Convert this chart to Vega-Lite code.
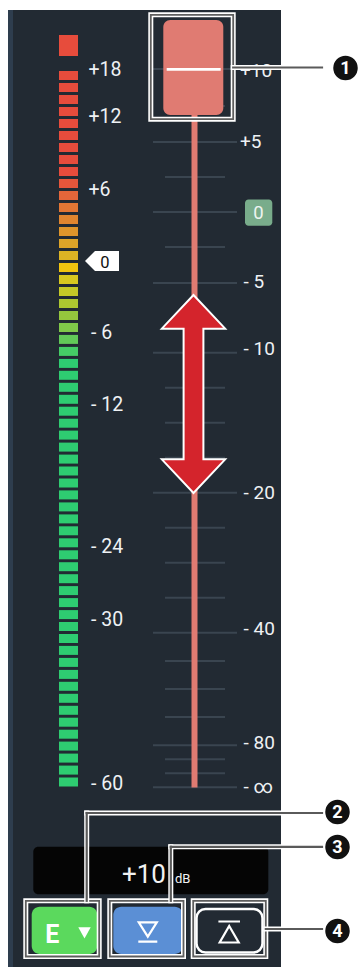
{
  "$schema": "https://vega.github.io/schema/vega-lite/v6.json",
  "width": 359,
  "height": 967,
  "padding": 0,
  "autosize": {"type": "fit", "contains": "padding"},
  "background": "#ffffff",
  "config": {"view": {"stroke": null}},
  "datasets": {
    "panel": [{"x": 8, "x2": 281, "y": 10, "y2": 967}],
    "strip": [{"x": 8, "x2": 13, "y": 10, "y2": 967}],
    "peak": [{"x": 59, "x2": 78, "y": 35, "y2": 56}],
    "meter": [
      {"i": 0, "x": 59, "x2": 78, "y": 71, "y2": 80},
      {"i": 1, "x": 59, "x2": 78, "y": 83, "y2": 92},
      {"i": 2, "x": 59, "x2": 78, "y": 95, "y2": 104},
      {"i": 3, "x": 59, "x2": 78, "y": 107, "y2": 116},
      {"i": 4, "x": 59, "x2": 78, "y": 119, "y2": 128},
      {"i": 5, "x": 59, "x2": 78, "y": 131, "y2": 140},
      {"i": 6, "x": 59, "x2": 78, "y": 143, "y2": 152},
      {"i": 7, "x": 59, "x2": 78, "y": 155, "y2": 164},
      {"i": 8, "x": 59, "x2": 78, "y": 167, "y2": 176},
      {"i": 9, "x": 59, "x2": 78, "y": 179, "y2": 188},
      {"i": 10, "x": 59, "x2": 78, "y": 191, "y2": 200},
      {"i": 11, "x": 59, "x2": 78, "y": 203, "y2": 212},
      {"i": 12, "x": 59, "x2": 78, "y": 215, "y2": 224},
      {"i": 13, "x": 59, "x2": 78, "y": 227, "y2": 236},
      {"i": 14, "x": 59, "x2": 78, "y": 239, "y2": 248},
      {"i": 15, "x": 59, "x2": 78, "y": 251, "y2": 260},
      {"i": 16, "x": 59, "x2": 78, "y": 263, "y2": 272},
      {"i": 17, "x": 59, "x2": 78, "y": 275, "y2": 284},
      {"i": 18, "x": 59, "x2": 78, "y": 287, "y2": 296},
      {"i": 19, "x": 59, "x2": 78, "y": 299, "y2": 308},
      {"i": 20, "x": 59, "x2": 78, "y": 311, "y2": 320},
      {"i": 21, "x": 59, "x2": 78, "y": 323, "y2": 332},
      {"i": 22, "x": 59, "x2": 78, "y": 334.9, "y2": 343.9},
      {"i": 23, "x": 59, "x2": 78, "y": 346.9, "y2": 355.9},
      {"i": 24, "x": 59, "x2": 78, "y": 358.9, "y2": 367.9},
      {"i": 25, "x": 59, "x2": 78, "y": 370.8, "y2": 379.8},
      {"i": 26, "x": 59, "x2": 78, "y": 382.8, "y2": 391.8},
      {"i": 27, "x": 59, "x2": 78, "y": 394.8, "y2": 403.8},
      {"i": 28, "x": 59, "x2": 78, "y": 406.7, "y2": 415.7},
      {"i": 29, "x": 59, "x2": 78, "y": 418.7, "y2": 427.7},
      {"i": 30, "x": 59, "x2": 78, "y": 430.6, "y2": 439.6},
      {"i": 31, "x": 59, "x2": 78, "y": 442.6, "y2": 451.6},
      {"i": 32, "x": 59, "x2": 78, "y": 454.6, "y2": 463.6},
      {"i": 33, "x": 59, "x2": 78, "y": 466.5, "y2": 475.5},
      {"i": 34, "x": 59, "x2": 78, "y": 478.5, "y2": 487.5},
      {"i": 35, "x": 59, "x2": 78, "y": 490.4, "y2": 499.4},
      {"i": 36, "x": 59, "x2": 78, "y": 502.4, "y2": 511.4},
      {"i": 37, "x": 59, "x2": 78, "y": 514.4, "y2": 523.4},
      {"i": 38, "x": 59, "x2": 78, "y": 526.3, "y2": 535.3},
      {"i": 39, "x": 59, "x2": 78, "y": 538.3, "y2": 547.3},
      {"i": 40, "x": 59, "x2": 78, "y": 550.3, "y2": 559.3},
      {"i": 41, "x": 59, "x2": 78, "y": 562.2, "y2": 571.2},
      {"i": 42, "x": 59, "x2": 78, "y": 574.2, "y2": 583.2},
      {"i": 43, "x": 59, "x2": 78, "y": 586.1, "y2": 595.1},
      {"i": 44, "x": 59, "x2": 78, "y": 598.1, "y2": 607.1},
      {"i": 45, "x": 59, "x2": 78, "y": 610.1, "y2": 619.1},
      {"i": 46, "x": 59, "x2": 78, "y": 622, "y2": 631},
      {"i": 47, "x": 59, "x2": 78, "y": 634, "y2": 643},
      {"i": 48, "x": 59, "x2": 78, "y": 645.9, "y2": 654.9},
      {"i": 49, "x": 59, "x2": 78, "y": 657.9, "y2": 666.9},
      {"i": 50, "x": 59, "x2": 78, "y": 669.9, "y2": 678.9},
      {"i": 51, "x": 59, "x2": 78, "y": 681.8, "y2": 690.8},
      {"i": 52, "x": 59, "x2": 78, "y": 693.8, "y2": 702.8},
      {"i": 53, "x": 59, "x2": 78, "y": 705.8, "y2": 714.8},
      {"i": 54, "x": 59, "x2": 78, "y": 717.7, "y2": 726.7},
      {"i": 55, "x": 59, "x2": 78, "y": 729.7, "y2": 738.7},
      {"i": 56, "x": 59, "x2": 78, "y": 741.6, "y2": 750.6},
      {"i": 57, "x": 59, "x2": 78, "y": 753.6, "y2": 762.6},
      {"i": 58, "x": 59, "x2": 78, "y": 765.6, "y2": 774.6},
      {"i": 59, "x": 59, "x2": 78, "y": 777.5, "y2": 786.5}
    ],
    "meterLabels": [
      {"t": "+18", "x": 88.5, "y": 75.7},
      {"t": "+12", "x": 88.5, "y": 123},
      {"t": "+6", "x": 88.5, "y": 195.7},
      {"t": "- 6", "x": 91, "y": 339.3},
      {"t": "- 12", "x": 91, "y": 410.7},
      {"t": "- 24", "x": 91, "y": 553.3},
      {"t": "- 30", "x": 91, "y": 625.7},
      {"t": "- 60", "x": 91, "y": 790}
    ],
    "zeroTag": [{"x": 102, "y": 261}],
    "zeroTagText": [{"t": "0", "x": 105, "y": 268.3}],
    "ticks": [
      {"x": 153, "x2": 237, "y": 69},
      {"x": 165, "x2": 225, "y": 106},
      {"x": 153, "x2": 237, "y": 142},
      {"x": 165, "x2": 225, "y": 177},
      {"x": 153, "x2": 237, "y": 212},
      {"x": 165, "x2": 225, "y": 247},
      {"x": 153, "x2": 237, "y": 283},
      {"x": 153, "x2": 237, "y": 352.7},
      {"x": 165, "x2": 225, "y": 387.7},
      {"x": 165, "x2": 225, "y": 422.7},
      {"x": 165, "x2": 225, "y": 457.7},
      {"x": 153, "x2": 237, "y": 492.7},
      {"x": 165, "x2": 225, "y": 527.7},
      {"x": 165, "x2": 225, "y": 562.7},
      {"x": 165, "x2": 225, "y": 597.7},
      {"x": 153, "x2": 237, "y": 632.7},
      {"x": 165, "x2": 225, "y": 661},
      {"x": 165, "x2": 225, "y": 689},
      {"x": 165, "x2": 225, "y": 717},
      {"x": 153, "x2": 237, "y": 745.3},
      {"x": 165, "x2": 225, "y": 759.3},
      {"x": 165, "x2": 225, "y": 773.3},
      {"x": 153, "x2": 237, "y": 787.3}
    ],
    "track": [{"x": 194.5, "y": 115, "y2": 787.5}],
    "faderLabels": [
      {"t": "+10", "x": 240, "y": 76.7},
      {"t": "+5", "x": 240, "y": 148.3},
      {"t": "- 5", "x": 243.5, "y": 287.5},
      {"t": "- 10", "x": 243.5, "y": 355},
      {"t": "- 20", "x": 243.5, "y": 499.3},
      {"t": "- 40", "x": 243.5, "y": 635},
      {"t": "- 80", "x": 243.5, "y": 749.3},
      {"t": "- ∞", "x": 243.5, "y": 793}
    ],
    "badge": [{"x": 245, "x2": 272.3, "y": 199.5, "y2": 225.7}],
    "badgeText": [{"t": "0", "x": 258.5, "y": 218.5}],
    "knob": [{"x": 163.3, "x2": 223.3, "y": 20, "y2": 115}],
    "knobLine": [{"x": 166.7, "x2": 220.7, "y": 69.3}],
    "arrow": [{"x": 193.5, "y": 394}],
    "display": [{"x": 33.3, "x2": 268.3, "y": 846.7, "y2": 894.3}],
    "displayValue": [{"t": "+10", "x": 122, "y": 882.7}],
    "displayUnit": [{"t": "dB", "x": 175, "y": 882.7}],
    "greenButton": [{"x": 31.7, "x2": 97.3, "y": 906.7, "y2": 954}],
    "blueButton": [{"x": 113.3, "x2": 182.7, "y": 906.7, "y2": 954}],
    "darkButton": [{"x": 196.5, "x2": 262.5, "y": 909, "y2": 952.5}],
    "eText": [{"t": "E", "x": 52.2, "y": 942.7}],
    "eArrow": [{"x": 84.5, "y": 932.5}],
    "downSym": [{"x": 147.8, "y": 932.5}],
    "upSym": [{"x": 229.2, "y": 932}],
    "frames": [
      {"x": 150.8, "x2": 233.2, "y": 14.8, "y2": 119.2},
      {"x": 25.8, "x2": 99.2, "y": 900.8, "y2": 956.5},
      {"x": 109.8, "x2": 183.5, "y": 900.8, "y2": 956.5},
      {"x": 193.2, "x2": 265.8, "y": 900.8, "y2": 956.5}
    ],
    "leaders": [
      {"x": 233.2, "x2": 322, "y": 67.5, "y2": 67.5},
      {"x": 86.7, "x2": 86.7, "y": 900.8, "y2": 813},
      {"x": 86.7, "x2": 322, "y": 813, "y2": 813},
      {"x": 170.8, "x2": 170.8, "y": 900.8, "y2": 846.8},
      {"x": 170.8, "x2": 322, "y": 846.8, "y2": 846.8},
      {"x": 265.8, "x2": 322, "y": 929, "y2": 929}
    ],
    "callouts": [
      {"t": "1", "x": 345.5, "y": 68},
      {"t": "2", "x": 337.5, "y": 812},
      {"t": "3", "x": 337.5, "y": 847},
      {"t": "4", "x": 337.5, "y": 931}
    ]
  },
  "encoding": {
    "x": {"field": "x", "type": "quantitative", "scale": {"domain": [0, 359], "nice": false, "zero": false}, "axis": null},
    "y": {"field": "y", "type": "quantitative", "scale": {"domain": [0, 967], "reverse": true, "nice": false, "zero": false}, "axis": null}
  },
  "layer": [
    {"data": {"name": "panel"}, "mark": {"type": "rect", "fill": "#222a33"}, "encoding": {"x2": {"field": "x2"}, "y2": {"field": "y2"}}},
    {"data": {"name": "strip"}, "mark": {"type": "rect", "fill": "#2e3d4e"}, "encoding": {"x2": {"field": "x2"}, "y2": {"field": "y2"}}},
    {"data": {"name": "peak"}, "mark": {"type": "rect", "fill": "#e74c3c"}, "encoding": {"x2": {"field": "x2"}, "y2": {"field": "y2"}}},
    {"data": {"name": "meter"}, "mark": {"type": "rect"}, "encoding": {
      "x2": {"field": "x2"}, "y2": {"field": "y2"},
      "color": {"field": "i", "type": "quantitative", "legend": null, "scale": {
        "domain": [0, 8, 9, 10, 11, 12, 13, 14, 15, 16, 17, 18, 19, 20, 21, 22, 23, 24, 59],
        "range": ["#e74c3c", "#e74c3c", "#e5563b", "#e4663a", "#e27634", "#e0852f", "#de952b", "#dda428", "#dcb324", "#f1c40f", "#d8c81f", "#c5c927", "#adc630", "#95c63d", "#80c849", "#62c958", "#45cc66", "#2ecc71", "#2ecc71"],
        "interpolate": "rgb"}}}},
    {"data": {"name": "meterLabels"}, "mark": {"type": "text", "font": "Roboto", "fontSize": 19.5, "align": "left", "baseline": "alphabetic", "fill": "#eef1f4"}, "encoding": {"text": {"field": "t"}}},
    {"data": {"name": "zeroTag"}, "mark": {"type": "point", "shape": "M-1,0 L-0.41,-0.588 L1,-0.588 L1,0.588 L-0.41,0.588 Z", "size": 1156, "filled": true, "fill": "#ffffff", "opacity": 1}},
    {"data": {"name": "zeroTagText"}, "mark": {"type": "text", "font": "Roboto", "fontSize": 16.5, "align": "center", "baseline": "alphabetic", "fill": "#111111"}, "encoding": {"text": {"field": "t"}}},
    {"data": {"name": "ticks"}, "mark": {"type": "rule", "stroke": "#3a4550", "strokeWidth": 2}, "encoding": {"x2": {"field": "x2"}}},
    {"data": {"name": "track"}, "mark": {"type": "rule", "stroke": "#e07b72", "strokeWidth": 6}, "encoding": {"y2": {"field": "y2"}}},
    {"data": {"name": "faderLabels"}, "mark": {"type": "text", "font": "Roboto", "fontSize": 19, "align": "left", "baseline": "alphabetic", "fill": "#eef1f4"}, "encoding": {"text": {"field": "t"}}},
    {"data": {"name": "badge"}, "mark": {"type": "rect", "fill": "#79ac8b", "cornerRadius": 3.5}, "encoding": {"x2": {"field": "x2"}, "y2": {"field": "y2"}}},
    {"data": {"name": "badgeText"}, "mark": {"type": "text", "font": "Roboto", "fontSize": 18.5, "align": "center", "baseline": "alphabetic", "fill": "#eef4f0"}, "encoding": {"text": {"field": "t"}}},
    {"data": {"name": "knob"}, "mark": {"type": "rect", "fill": "#e07b72", "cornerRadius": 7}, "encoding": {"x2": {"field": "x2"}, "y2": {"field": "y2"}}},
    {"data": {"name": "knobLine"}, "mark": {"type": "rule", "stroke": "#ffffff", "strokeWidth": 2.7}, "encoding": {"x2": {"field": "x2"}}},
    {"data": {"name": "arrow"}, "mark": {"type": "point", "shape": "M0,-1 L0.32,-0.66 L0.1,-0.66 L0.1,0.66 L0.32,0.66 L0,1 L-0.32,0.66 L-0.1,0.66 L-0.1,-0.66 L-0.32,-0.66 Z", "size": 39204, "filled": true, "fill": "#d4242c", "stroke": "#ffffff", "strokeWidth": 2, "opacity": 1}},
    {"data": {"name": "display"}, "mark": {"type": "rect", "fill": "#050505", "cornerRadius": 5}, "encoding": {"x2": {"field": "x2"}, "y2": {"field": "y2"}}},
    {"data": {"name": "displayValue"}, "mark": {"type": "text", "font": "Roboto", "fontSize": 26, "align": "left", "baseline": "alphabetic", "fill": "#f2f2f2"}, "encoding": {"text": {"field": "t"}}},
    {"data": {"name": "displayUnit"}, "mark": {"type": "text", "font": "Roboto", "fontSize": 13, "align": "left", "baseline": "alphabetic", "fill": "#f2f2f2"}, "encoding": {"text": {"field": "t"}}},
    {"data": {"name": "greenButton"}, "mark": {"type": "rect", "fill": "#5bd95d", "cornerRadius": 8}, "encoding": {"x2": {"field": "x2"}, "y2": {"field": "y2"}}},
    {"data": {"name": "blueButton"}, "mark": {"type": "rect", "fill": "#5b8fd5", "cornerRadius": 8}, "encoding": {"x2": {"field": "x2"}, "y2": {"field": "y2"}}},
    {"data": {"name": "darkButton"}, "mark": {"type": "rect", "fill": "#222a33", "stroke": "#ffffff", "strokeWidth": 2.5, "cornerRadius": 9}, "encoding": {"x2": {"field": "x2"}, "y2": {"field": "y2"}}},
    {"data": {"name": "eText"}, "mark": {"type": "text", "font": "Roboto", "fontSize": 25, "fontWeight": "bold", "align": "center", "baseline": "alphabetic", "fill": "#ffffff"}, "encoding": {"text": {"field": "t"}}},
    {"data": {"name": "eArrow"}, "mark": {"type": "point", "shape": "M-1,-0.85 L1,-0.85 L0,0.95 Z", "size": 154, "filled": true, "fill": "#ffffff", "opacity": 1}},
    {"data": {"name": "downSym"}, "mark": {"type": "point", "shape": "M-0.95,-1.07 L0.95,-1.07 L0,0.44 Z M-1,0.97 L1,0.97", "size": 361, "filled": false, "stroke": "#ffffff", "strokeWidth": 2.2, "opacity": 1}},
    {"data": {"name": "upSym"}, "mark": {"type": "point", "shape": "M-1,-0.97 L1,-0.97 M0,-0.56 L0.88,0.97 L-0.88,0.97 Z", "size": 467, "filled": false, "stroke": "#ffffff", "strokeWidth": 2.2, "opacity": 1}},
    {"data": {"name": "frames"}, "mark": {"type": "rect", "fill": null, "fillOpacity": 0, "stroke": "#ffffff", "strokeWidth": 5}, "encoding": {"x2": {"field": "x2"}, "y2": {"field": "y2"}}},
    {"data": {"name": "frames"}, "mark": {"type": "rect", "fill": null, "fillOpacity": 0, "stroke": "#5e5e5e", "strokeWidth": 1.8}, "encoding": {"x2": {"field": "x2"}, "y2": {"field": "y2"}}},
    {"data": {"name": "leaders"}, "mark": {"type": "rule", "stroke": "#ffffff", "strokeWidth": 5, "strokeCap": "square"}, "encoding": {"x2": {"field": "x2"}, "y2": {"field": "y2"}}},
    {"data": {"name": "leaders"}, "mark": {"type": "rule", "stroke": "#5a5a5a", "strokeWidth": 2.2, "strokeCap": "square"}, "encoding": {"x2": {"field": "x2"}, "y2": {"field": "y2"}}},
    {"data": {"name": "callouts"}, "mark": {"type": "point", "shape": "circle", "size": 600, "filled": true, "fill": "#111111", "opacity": 1}},
    {"data": {"name": "callouts"}, "mark": {"type": "text", "font": "Roboto", "fontSize": 18, "fontWeight": "bold", "align": "center", "baseline": "middle", "dy": 1, "fill": "#ffffff"}, "encoding": {"text": {"field": "t"}}}
  ]
}
